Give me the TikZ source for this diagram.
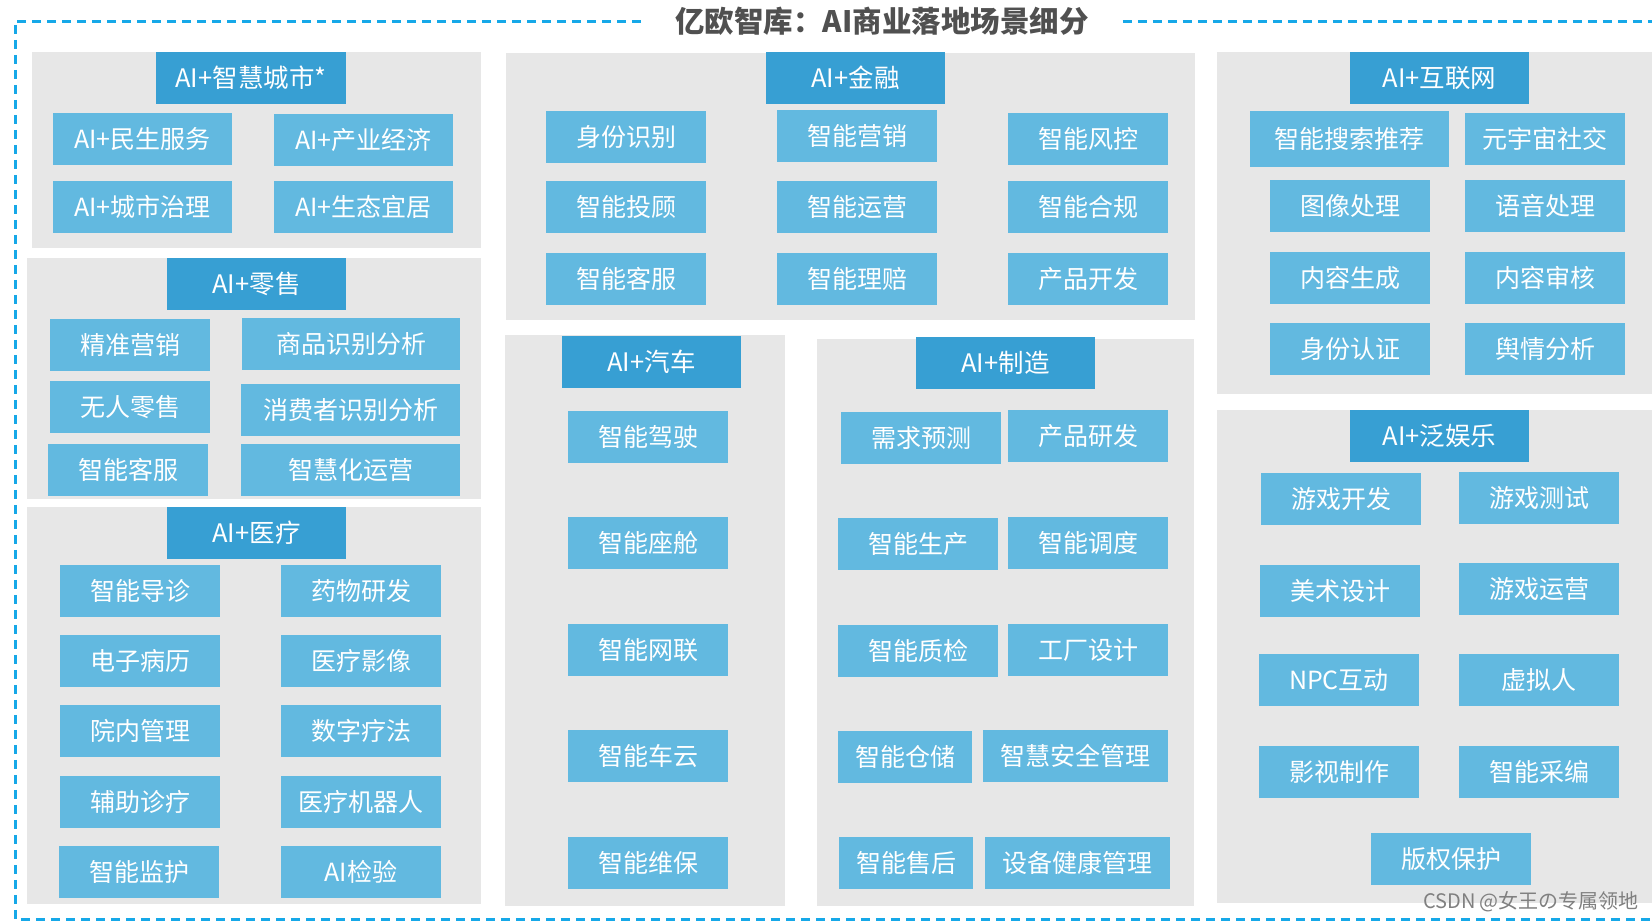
\documentclass[tikz,border=0pt]{standalone}
\usepackage{fontspec}
\newfontfamily\cjk{Noto Sans CJK SC}
\usepackage{tikz}
\usepackage{xcolor}
\definecolor{headblue}{RGB}{55,159,211}
\definecolor{itemblue}{RGB}{98,185,224}
\definecolor{panelgray}{RGB}{231,231,231}
\definecolor{framecyan}{RGB}{22,168,232}
\definecolor{titlegray}{RGB}{80,80,80}

\begin{document}
\begin{tikzpicture}[x=1pt,y=-1pt,
  panel/.style={fill=panelgray},
  head/.style={fill=headblue,text=white,minimum width=179pt,minimum height=52pt,inner sep=0pt,font=\cjk\fontsize{25.5}{25.5}\selectfont},
  item/.style={fill=itemblue,text=white,minimum width=160pt,minimum height=52pt,inner sep=0pt,font=\cjk\fontsize{25}{25}\selectfont},
  frame/.style={draw=framecyan,line width=3pt,dash pattern=on 9pt off 6pt}]
\useasboundingbox (0,0) rectangle (1652,922);
\node[font=\cjk\bfseries\fontsize{29.5}{29.5}\selectfont,text=titlegray,inner xsep=34pt] at (882,21) (title) {亿欧智库：AI商业落地场景细分};
\draw[frame] (title.west) -- (15,21) -- (15,919) -- (1652,919);
\draw[frame] (title.east) -- (1652,21);
\fill[panel] (32,52) rectangle (481,248);
\fill[panel] (27,258) rectangle (481,499);
\fill[panel] (27,507) rectangle (481,904);
\fill[panel] (506,53) rectangle (1195,320);
\fill[panel] (505,335) rectangle (785,906);
\fill[panel] (817,339) rectangle (1194,906);
\fill[panel] (1217,52) rectangle (1652,394);
\fill[panel] (1217,410) rectangle (1652,903);
\node[head,minimum width=190pt] at (251,78) (city) {AI+智慧城市*};
\node[item,minimum width=179pt] at (142.5,139) (city1) {AI+民生服务};
\node[item,minimum width=179pt] at (363.5,140) (city2) {AI+产业经济};
\node[item,minimum width=179pt] at (142.5,207) (city3) {AI+城市治理};
\node[item,minimum width=179pt] at (363.5,207) (city4) {AI+生态宜居};
\node[head] at (256.5,284) (retail) {AI+零售};
\node[item] at (130,345) (retail1) {精准营销};
\node[item,minimum width=218pt] at (351,344) (retail2) {商品识别分析};
\node[item] at (130,407) (retail3) {无人零售};
\node[item,minimum width=219pt] at (350.5,410) (retail4) {消费者识别分析};
\node[item] at (128,470) (retail5) {智能客服};
\node[item,minimum width=219pt] at (350.5,470) (retail6) {智慧化运营};
\node[head] at (256.5,533) (med) {AI+医疗};
\node[item] at (140,591) (med1) {智能导诊};
\node[item] at (361,591) (med2) {药物研发};
\node[item] at (140,661) (med3) {电子病历};
\node[item] at (361,661) (med4) {医疗影像};
\node[item] at (140,731) (med5) {院内管理};
\node[item] at (361,731) (med6) {数字疗法};
\node[item] at (140,802) (med7) {辅助诊疗};
\node[item] at (361,802) (med8) {医疗机器人};
\node[item] at (139,872) (med9) {智能监护};
\node[item] at (361,872) (med10) {AI检验};
\node[head] at (855.5,78) (fin) {AI+金融};
\node[item] at (626,137) (fin1) {身份识别};
\node[item] at (857,136) (fin2) {智能营销};
\node[item] at (1088,139) (fin3) {智能风控};
\node[item] at (626,207) (fin4) {智能投顾};
\node[item] at (857,207) (fin5) {智能运营};
\node[item] at (1088,207) (fin6) {智能合规};
\node[item] at (626,279) (fin7) {智能客服};
\node[item] at (857,279) (fin8) {智能理赔};
\node[item] at (1088,279) (fin9) {产品开发};
\node[head] at (651.5,362) (auto) {AI+汽车};
\node[item] at (648,437) (auto1) {智能驾驶};
\node[item] at (648,543) (auto2) {智能座舱};
\node[item] at (648,650) (auto3) {智能网联};
\node[item] at (648,756) (auto4) {智能车云};
\node[item] at (648,863) (auto5) {智能维保};
\node[head] at (1005.5,363) (mfg) {AI+制造};
\node[item] at (921,438) (mfg1) {需求预测};
\node[item] at (1088,436) (mfg2) {产品研发};
\node[item] at (918,544) (mfg3) {智能生产};
\node[item] at (1088,543) (mfg4) {智能调度};
\node[item] at (918,651) (mfg5) {智能质检};
\node[item] at (1088,650) (mfg6) {工厂设计};
\node[item,minimum width=134pt] at (905,757) (mfg7) {智能仓储};
\node[item,minimum width=185pt] at (1075.5,756) (mfg8) {智慧安全管理};
\node[item,minimum width=134pt] at (906,863) (mfg9) {智能售后};
\node[item,minimum width=185pt] at (1077.5,863) (mfg10) {设备健康管理};
\node[head] at (1439.5,78) (web) {AI+互联网};
\node[item,minimum width=199pt,minimum height=56pt] at (1349.5,139) (web1) {智能搜索推荐};
\node[item] at (1545,139) (web2) {元宇宙社交};
\node[item] at (1350,206) (web3) {图像处理};
\node[item] at (1545,206) (web4) {语音处理};
\node[item] at (1350,278) (web5) {内容生成};
\node[item] at (1545,278) (web6) {内容审核};
\node[item] at (1350,349) (web7) {身份认证};
\node[item] at (1545,349) (web8) {舆情分析};
\node[head] at (1439.5,436) (ent) {AI+泛娱乐};
\node[item] at (1341,499) (ent1) {游戏开发};
\node[item] at (1539,498) (ent2) {游戏测试};
\node[item] at (1340,591) (ent3) {美术设计};
\node[item] at (1539,589) (ent4) {游戏运营};
\node[item] at (1339,680) (ent5) {NPC互动};
\node[item] at (1539,680) (ent6) {虚拟人};
\node[item] at (1339,772) (ent7) {影视制作};
\node[item] at (1539,772) (ent8) {智能采编};
\node[item] at (1451,859) (ent9) {版权保护};
\node[text=gray,font=\cjk\fontsize{20}{20}\selectfont] at (1531,902) (csdn) {CSDN @女王の专属领地};
\end{tikzpicture}
\end{document}
